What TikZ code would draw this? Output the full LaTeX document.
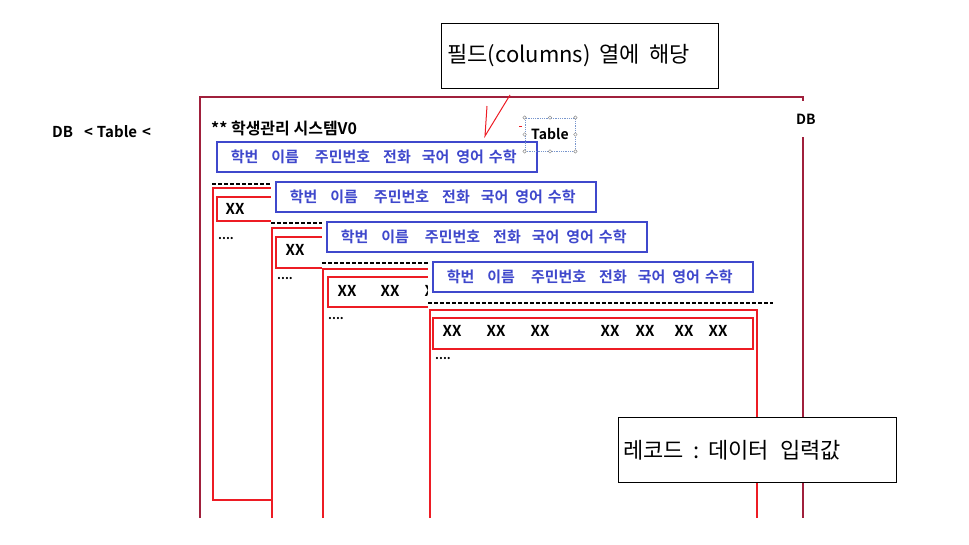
\documentclass[tikz,border=0pt]{standalone}
\usepackage{fontspec}
\setmainfont{Noto Sans CJK KR}[BoldFont={Noto Sans CJK KR Bold}]
\definecolor{dbred}{RGB}{160,32,60}
\definecolor{tred}{RGB}{237,28,36}
\definecolor{hblue}{RGB}{63,72,204}
\definecolor{selblue}{RGB}{120,150,205}
\newcommand{\hdrtext}{학번\hspace{13pt}이름\hspace{16pt}주민번호\hspace{13pt}전화\hspace{11pt}국어\hspace{7pt}영어\hspace{5pt}수학}
\begin{document}
\begin{tikzpicture}[x=1pt,y=-1pt,
  hdr/.style={draw=hblue,line width=1.6pt,fill=white,anchor=north west,inner xsep=14pt,inner ysep=0pt,text width=292pt,minimum height=30pt,text=hblue,font=\bfseries\fontsize{15}{15}\selectfont},
  rec/.style={draw=tred,line width=1.6pt},
  tbl/.style={draw=tred,line width=1.6pt},
  dline/.style={black,line width=1.4pt,dash pattern=on 4pt off 2pt},
  xx/.style={font=\bfseries\fontsize{15}{15}\selectfont,inner sep=0pt},
  dots/.style={font=\bfseries\fontsize{12}{12}\selectfont,inner sep=0pt,anchor=west},
  lbl/.style={font=\bfseries\fontsize{15}{15}\selectfont,inner sep=0pt,anchor=west},
  callout/.style={draw=black,line width=1pt,fill=white,anchor=north west,inner xsep=6pt,inner ysep=0pt,align=left,font=\fontsize{22}{22}\selectfont},
  handle/.style={draw=gray,fill=white,line width=0.4pt,circle,inner sep=0pt,minimum size=3.5pt}
]
\useasboundingbox (0,0) rectangle (969,544);

% DB box
\draw[dbred,line width=1.8pt] (200,518) -- (200,97) -- (803,97) -- (803,518);
\node[fill=white,inner xsep=3pt,inner ysep=13pt,font=\bfseries\fontsize{14}{14}\selectfont] (dblbl) at (806,119) {DB};

\node[lbl] (title) at (52,132) {DB\hspace{11pt}<\hspace{4pt}Table\hspace{5pt}<};
\node[lbl,font=\bfseries\fontsize{16}{16}\selectfont] (sys) at (211,128) {** 학생관리 시스템V0};

% layer 1
\node[hdr] (h1) at (216,141) {\hdrtext};
\draw[dline] (212,184) -- (300,184);
\draw[tbl] (213,188) rectangle (700,500);
\draw[rec] (217,197) rectangle (330,221);
\node[xx] (x11) at (235,209) {XX};
\node[dots] (d1) at (218,239) {....};

% layer 2
\fill[white] (271,178) rectangle (762,518);
\node[hdr] (h2) at (275,181) {\hdrtext};
\draw[dline] (271,223) -- (340,223);
\draw[tbl] (272,518) -- (272,228) -- (700,228) -- (700,518);
\draw[rec] (276,237) rectangle (380,268);
\node[xx] (x21) at (295,250) {XX};
\node[dots] (d2) at (277,279) {....};

% layer 3
\fill[white] (322,217) rectangle (762,518);
\node[hdr] (h3) at (326,221) {\hdrtext};
\draw[dline] (322,263) -- (440,263);
\draw[tbl] (323,518) -- (323,269) -- (700,269) -- (700,518);
\draw[rec] (328,277) rectangle (500,307);
\node[xx] (x31) at (347,291) {XX};
\node[xx] (x32) at (390,291) {XX};
\node[xx] (x33) at (434,291) {XX};
\node[dots] (d3) at (328,319) {....};

% layer 4
\fill[white] (428,256) rectangle (777,518);
\node[hdr] (h4) at (432,261) {\hdrtext};
\draw[dline] (428,303) -- (773,303);
\draw[tbl] (430,518) -- (430,310) -- (757,310) -- (757,518);
\draw[rec] (433,318) rectangle (753,349);
\node[xx] (x41) at (452,331) {XX};
\node[xx] (x42) at (496,331) {XX};
\node[xx] (x43) at (540,331) {XX};
\node[xx] (x44) at (610,331) {XX};
\node[xx] (x45) at (645,331) {XX};
\node[xx] (x46) at (684,331) {XX};
\node[xx] (x47) at (718,331) {XX};
\node[dots] (d4) at (435,359) {....};

% Table label with selection handles
\node[draw=selblue,densely dotted,line width=0.8pt,minimum width=50pt,minimum height=33pt,inner sep=0pt,font=\bfseries\fontsize{14}{14}\selectfont] (tlabel) at (550,134.5) {Table};
\foreach \a in {north west,north,north east,east,south east,south,south west,west}
  \node[handle] at (tlabel.\a) {};
\draw[tred,line width=1pt] (519,126) -- (522,126);

% callouts
\node[callout,text width=265pt,minimum height=65pt] (c1) at (441,23) {필드(columns)\hspace{9pt}열에\hspace{9pt}해당};
\coordinate (p0) at (510,95);
\coordinate (p1) at (485,136);
\coordinate (p2) at (487,106);
\draw[tred,line width=1pt] (p0) -- (p1) -- (p2);

\node[callout,inner xsep=5pt,text width=268pt,minimum height=65pt] (c2) at (618,417) {레코드\hspace{9pt}:\hspace{9pt}데이터\hspace{11pt}입력값};
\end{tikzpicture}
\end{document}
